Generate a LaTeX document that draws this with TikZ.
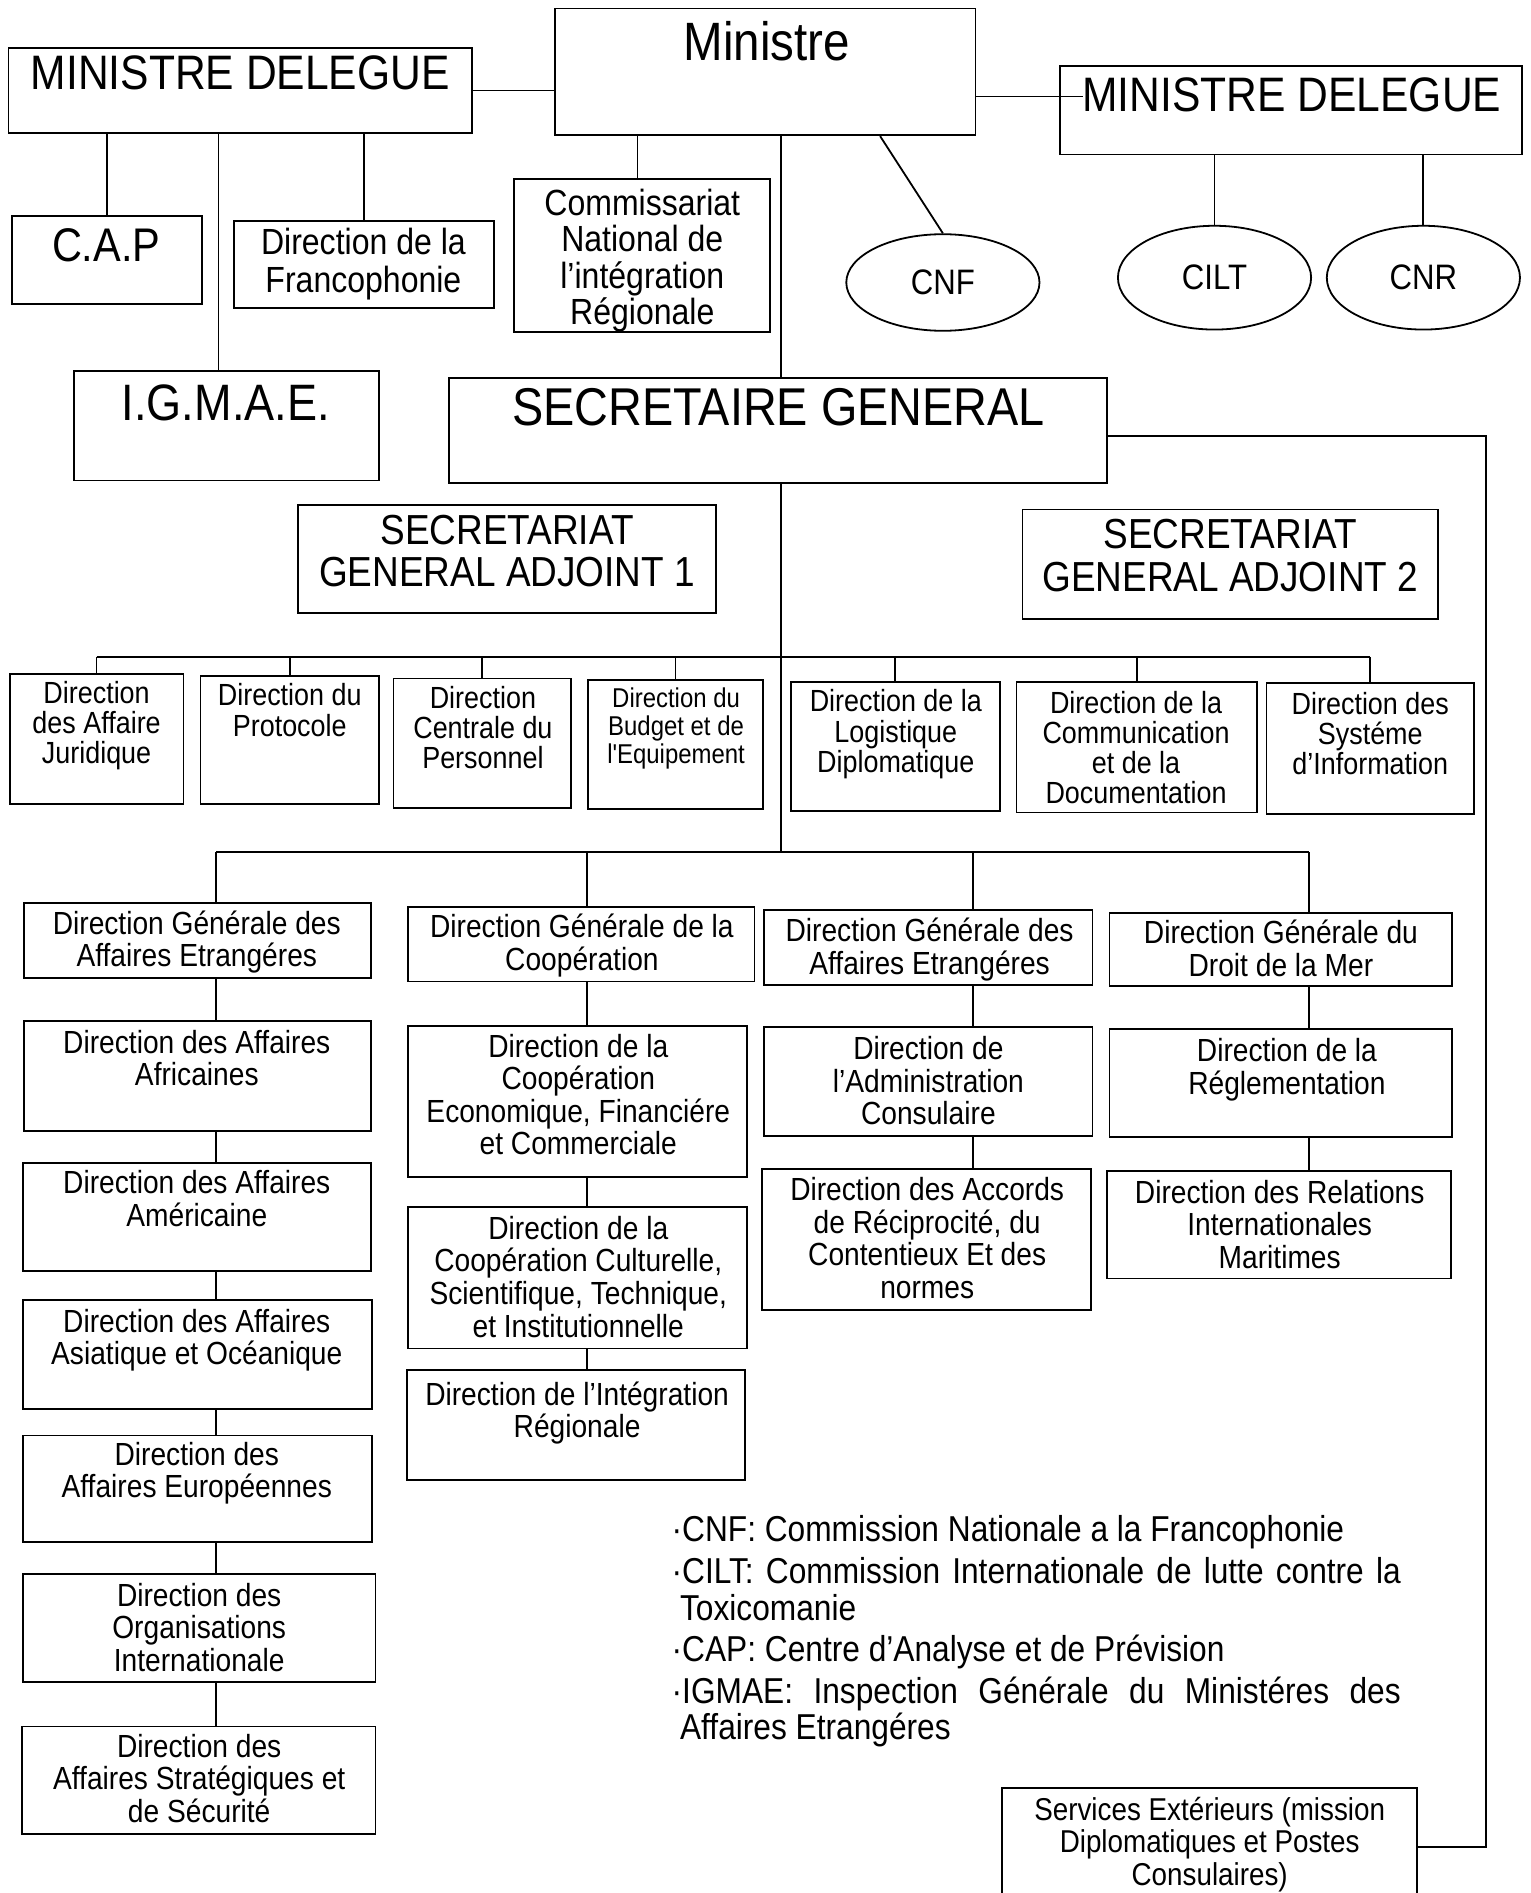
\documentclass[tikz,border=0pt]{standalone}
\usepackage{fontspec}
\setmainfont{Liberation Sans}[FakeStretch=0.88]
\usetikzlibrary{fit,shapes.geometric}
\newcommand\myfs[2]{\fontsize{#1}{#2}\selectfont}
\begin{document}
\begin{tikzpicture}[x=0.6037pt,y=-0.6037pt,
  bx/.style={draw, line width=0.9pt, inner sep=0pt},
  tx/.style={anchor=north, align=center, inner sep=0pt},
  ln/.style={line width=0.9pt},
  el/.style={draw, ellipse, line width=0.9pt, inner sep=0pt, minimum width=96.6pt},
  big/.style={font=\myfs{24.2pt}{24pt}},
  mid/.style={font=\myfs{16pt}{16.3pt}},
  row/.style={font=\myfs{15.3pt}{15.1pt}},
  lg/.style={anchor=base west, inner sep=0pt, font=\myfs{18pt}{20pt}}]
\fill[white] (0,0) rectangle (1268,1568);
\useasboundingbox (0,0) rectangle (1268,1568);

% top level
\node[bx, fit={(7,40)(391,110)}] (mdl) {};
\node[tx, big] (mdl-t) at (199,46) {MINISTRE DELEGUE};
\node[bx, fit={(460,7)(808,112)}] (min) {};
\node[tx, font=\myfs{27pt}{27pt}] (min-t) at (635,17) {Ministre};
\node[bx, fit={(878,55)(1261,128)}] (mdr) {};
\node[tx, big] (mdr-t) at (1070,64) {MINISTRE DELEGUE};

\node[bx, fit={(10,179)(167,252)}] (cap) {};
\node[tx, font=\myfs{23.6pt}{24pt}] (cap-t) at (88,189) {C.A.P};
\node[bx, fit={(194,183)(409,255)}] (fr) {};
\node[tx, font=\myfs{18.2pt}{18.6pt}] (fr-t) at (301,189) {Direction de la\\Francophonie};
\node[bx, fit={(61,307)(314,398)}] (igm) {};
\node[tx, font=\myfs{25.6pt}{26pt}] (igm-t) at (187,318) {I.G.M.A.E.};
\node[bx, fit={(426,148)(638,275)}] (com) {};
\node[tx, font=\myfs{18.2pt}{18.3pt}] (com-t) at (532,156) {Commissariat\\National de\\l’intégration\\Régionale};

\node[el, minimum height=48.3pt, font=\myfs{17.7pt}{18pt}] (cnf) at (781,234) {CNF};
\node[el, minimum height=51.9pt, font=\myfs{17.7pt}{18pt}] (cilt) at (1006,230) {CILT};
\node[el, minimum height=51.9pt, font=\myfs{17.7pt}{18pt}] (cnr) at (1179,230) {CNR};

\node[bx, fit={(372,313)(917,400)}] (sg) {};
\node[tx, font=\myfs{26.6pt}{27pt}] (sg-t) at (645,321) {SECRETAIRE GENERAL};

\node[bx, fit={(247,418)(593,508)}] (sga1) {};
\node[tx, font=\myfs{21pt}{21.1pt}] (sga1-t) at (420,426) {SECRETARIAT\\GENERAL ADJOINT 1};
\node[bx, fit={(847,422)(1191,513)}] (sga2) {};
\node[tx, font=\myfs{21pt}{21.1pt}] (sga2-t) at (1019,430) {SECRETARIAT\\GENERAL ADJOINT 2};

% row of directions
\node[bx, fit={(8,558)(152,666)}] (r1) {};
\node[tx, row] (r1-t) at (80,564) {Direction\\des Affaire\\Juridique};
\node[bx, fit={(166,560)(314,666)}] (r2) {};
\node[tx, row] (r2-t) at (240,566) {Direction du\\Protocole};
\node[bx, fit={(326,562)(473,669)}] (r3) {};
\node[tx, row] (r3-t) at (400,568) {Direction\\Centrale du\\Personnel};
\node[bx, fit={(487,563)(632,670)}] (r4) {};
\node[tx, font=\myfs{13.6pt}{14.2pt}] (r4-t) at (560,569) {Direction du\\Budget et de\\{\addfontfeature{Ligatures=TeXOff}l'Equipement}};
\node[bx, fit={(655,565)(828,672)}] (r5) {};
\node[tx, row] (r5-t) at (742,571) {Direction de la\\Logistique\\Diplomatique};
\node[bx, fit={(842,565)(1041,673)}] (r6) {};
\node[tx, row] (r6-t) at (941,572) {Direction de la\\Communication\\et de la\\Documentation};
\node[bx, fit={(1049,566)(1221,674)}] (r7) {};
\node[tx, row] (r7-t) at (1135,573) {Direction des\\Systéme\\d’Information};

% column 1
\node[bx, fit={(20,748)(307,810)}] (a1) {};
\node[tx, mid] (a1-t) at (163,754) {Direction Générale des\\Affaires Etrangéres};
\node[bx, fit={(20,846)(307,937)}] (a2) {};
\node[tx, mid] (a2-t) at (163,853) {Direction des Affaires\\Africaines};
\node[bx, fit={(19,963)(307,1053)}] (a3) {};
\node[tx, mid] (a3-t) at (163,969) {Direction des Affaires\\Américaine};
\node[bx, fit={(19,1077)(308,1167)}] (a4) {};
\node[tx, mid] (a4-t) at (163,1084) {Direction des Affaires\\Asiatique et Océanique};
\node[bx, fit={(19,1189)(308,1277)}] (a5) {};
\node[tx, mid] (a5-t) at (163,1194) {Direction des\\Affaires Européennes};
\node[bx, fit={(19,1304)(311,1393)}] (a6) {};
\node[tx, mid] (a6-t) at (165,1311) {Direction des\\Organisations\\Internationale};
\node[bx, fit={(18,1430)(311,1519)}] (a7) {};
\node[tx, mid] (a7-t) at (165,1436) {Direction des\\Affaires Stratégiques et\\de Sécurité};

% column 2
\node[bx, fit={(338,751)(625,813)}] (b1) {};
\node[tx, mid] (b1-t) at (482,757) {Direction Générale de la\\Coopération};
\node[bx, fit={(338,850)(619,975)}] (b2) {};
\node[tx, mid] (b2-t) at (479,856) {Direction de la\\Coopération\\Economique, Financiére\\et Commerciale};
\node[bx, fit={(338,1000)(619,1117)}] (b3) {};
\node[tx, mid] (b3-t) at (479,1007) {Direction de la\\Coopération Culturelle,\\Scientifique, Technique,\\et Institutionnelle};
\node[bx, fit={(337,1135)(617,1226)}] (b4) {};
\node[tx, mid] (b4-t) at (478,1144) {Direction de l’Intégration\\Régionale};

% column 3
\node[bx, fit={(633,754)(905,816)}] (c1) {};
\node[tx, mid] (c1-t) at (770,760) {Direction Générale des\\Affaires Etrangéres};
\node[bx, fit={(633,851)(905,941)}] (c2) {};
\node[tx, mid] (c2-t) at (769,858) {Direction de\\l’Administration\\Consulaire};
\node[bx, fit={(631,968)(904,1085)}] (c3) {};
\node[tx, mid] (c3-t) at (768,975) {Direction des Accords\\de Réciprocité, du\\Contentieux Et des\\normes};

% column 4
\node[bx, fit={(919,756)(1203,817)}] (d1) {};
\node[tx, mid] (d1-t) at (1061,762) {Direction Générale du\\Droit de la Mer};
\node[bx, fit={(919,852)(1203,942)}] (d2) {};
\node[tx, mid] (d2-t) at (1066,860) {Direction de la\\Réglementation};
\node[bx, fit={(917,970)(1202,1059)}] (d3) {};
\node[tx, mid] (d3-t) at (1060,977) {Direction des Relations\\Internationales\\Maritimes};

% services
\node[bx, fit={(830,1481)(1174,1585)}] (svc) {};
\node[tx, font=\myfs{15.8pt}{16.3pt}] (svc-t) at (1002,1488) {Services Extérieurs (mission\\Diplomatiques et Postes\\Consulaires)};

% legend
\node[lg] (l1) at (556,1277) {·CNF: Commission Nationale a la Francophonie};
\node[lg] (l2) at (556,1312) {\makebox[364.6pt][s]{·CILT: Commission Internationale de lutte contre la}};
\node[lg] (l3) at (563,1342) {Toxicomanie};
\node[lg] (l4) at (556,1376) {·CAP: Centre d’Analyse et de Prévision};
\node[lg] (l5) at (556,1411) {\makebox[364.6pt][s]{·IGMAE: Inspection Générale du Ministéres des}};
\node[lg] (l6) at (563,1441) {Affaires Etrangéres};

% helper coordinates
\coordinate (hm) at (897,80);
\coordinate (xi) at (181,0);
\coordinate (xc) at (528,0);
\coordinate (xs) at (647,0);
\coordinate (xn) at (729,0);
\coordinate (j) at (647,544);
\coordinate (k1) at (179,706);
\coordinate (k2) at (486,706);
\coordinate (k3) at (806,706);
\coordinate (k4) at (1084,706);
\coordinate (rs) at (1231,361);
\coordinate (rt) at (1231,1530);

% top connectors
\draw[ln] (mdl.east) -- (mdl.east -| min.west);
\draw[ln] (min.east |- hm) -- (hm);
\draw[ln] (mdl.south -| cap.north) -- (cap.north);
\draw[ln] (mdl.south -| fr.north) -- (fr.north);
\draw[ln] (mdl.south -| xi) -- (igm.north -| xi);
\draw[ln] (min.south -| xc) -- (com.north -| xc);
\draw[ln] (min.south -| xn) -- (cnf.north);
\draw[ln] (mdr.south -| cilt.north) -- (cilt.north);
\draw[ln] (mdr.south -| cnr.north) -- (cnr.north);
\draw[ln] (min.south -| xs) -- (sg.north -| xs);
\draw[ln] (sg.east |- rs) -- (rs) -- (rt) -- (svc.east |- rt);

% SG trunk and brackets
\draw[ln] (sg.south -| j) -- (j |- k1);
\draw[ln] (r1.north |- j) -- (r7.north |- j);
\foreach \r in {r1,r2,r3,r4,r5,r6,r7} \draw[ln] (\r.north |- j) -- (\r.north);
\draw[ln] (k1) -- (k4);
\draw[ln] (k1) -- (a1.north -| k1);
\draw[ln] (k2) -- (b1.north -| k2);
\draw[ln] (k3) -- (c1.north -| k3);
\draw[ln] (k4) -- (d1.north -| k4);

% chains
\draw[ln] (a1.south -| k1) -- (a2.north -| k1);
\draw[ln] (a2.south -| k1) -- (a3.north -| k1);
\draw[ln] (a3.south -| k1) -- (a4.north -| k1);
\draw[ln] (a4.south -| k1) -- (a5.north -| k1);
\draw[ln] (a5.south -| k1) -- (a6.north -| k1);
\draw[ln] (a6.south -| k1) -- (a7.north -| k1);
\draw[ln] (b1.south -| k2) -- (b2.north -| k2);
\draw[ln] (b2.south -| k2) -- (b3.north -| k2);
\draw[ln] (b3.south -| k2) -- (b4.north -| k2);
\draw[ln] (c1.south -| k3) -- (c2.north -| k3);
\draw[ln] (c2.south -| k3) -- (c3.north -| k3);
\draw[ln] (d1.south -| k4) -- (d2.north -| k4);
\draw[ln] (d2.south -| k4) -- (d3.north -| k4);
\end{tikzpicture}
\end{document}
